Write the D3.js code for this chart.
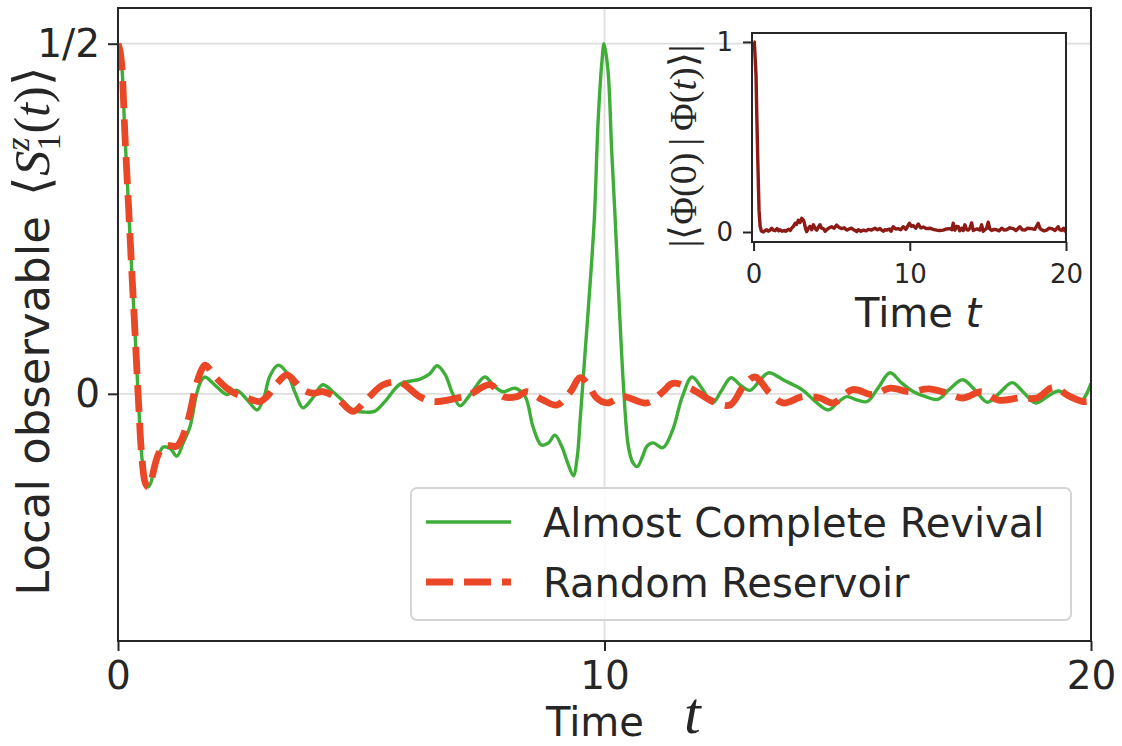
<!DOCTYPE html>
<html><head><meta charset="utf-8">
<script src="https://cdn.jsdelivr.net/npm/d3@7"></script>
<style>body{margin:0;background:#fff} svg{display:block}</style>
</head><body><svg id="c" width="1122" height="746"></svg>
<script>
// ---------- data ----------
const xTicks = [0, 10, 20];
const yTicks = [0, 0.5];
const yTickLabels = {"0": "0", "0.5": "1/2"};
const insetXTicks = [0, 10, 20];
const insetYTicks = [0, 1];
const seriesNames = ["Almost Complete Revival", "Random Reservoir"];

// [time, <S1z(t)>] for the "Almost Complete Revival" curve
const revival = [[0,0.5],[0.04,0.49],[0.08,0.467],[0.14,0.373],[0.21,0.277],[0.28,0.18],[0.35,0.087],[0.42,-0.009],[0.49,-0.09],[0.56,-0.127],[0.62,-0.133],[0.68,-0.126],[0.72,-0.113],[0.82,-0.09],[0.93,-0.076],[1.07,-0.078],[1.21,-0.089],[1.34,-0.07],[1.48,-0.047],[1.62,0.001],[1.72,0.02],[1.79,0.024],[2.03,0.01],[2.24,-0.001],[2.44,0.005],[2.65,-0.008],[2.86,-0.023],[3.0,-0.005],[3.12,0.025],[3.29,0.041],[3.47,0.03],[3.65,0.0],[3.8,-0.02],[3.98,-0.008],[4.21,0.013],[4.4,0.004],[4.56,-0.006],[4.83,-0.023],[5.05,-0.026],[5.27,-0.025],[5.5,-0.01],[5.8,0.014],[6.21,0.021],[6.4,0.028],[6.56,0.04],[6.72,0.028],[6.88,0.0],[7.03,-0.017],[7.25,0.0],[7.54,0.024],[7.72,0.012],[7.91,0.003],[8.16,0.008],[8.37,-0.004],[8.53,-0.047],[8.7,-0.073],[8.85,-0.07],[8.98,-0.059],[9.12,-0.075],[9.25,-0.1],[9.36,-0.117],[9.44,-0.09],[9.5,-0.037],[9.6,0.058],[9.7,0.153],[9.79,0.249],[9.87,0.391],[9.95,0.477],[9.99,0.5],[10.07,0.463],[10.15,0.344],[10.22,0.249],[10.3,0.13],[10.4,0.0],[10.49,-0.075],[10.58,-0.098],[10.67,-0.104],[10.78,-0.09],[10.87,-0.075],[11.0,-0.07],[11.2,-0.077],[11.4,-0.052],[11.6,-0.004],[11.8,0.024],[12.0,0.008],[12.22,-0.013],[12.4,0.004],[12.6,0.023],[12.8,0.012],[12.99,0.005],[13.18,0.018],[13.37,0.03],[13.7,0.019],[14.08,0.005],[14.35,-0.012],[14.6,-0.023],[14.8,-0.012],[14.98,-0.004],[15.2,-0.009],[15.4,-0.011],[15.62,0.008],[15.87,0.03],[16.1,0.016],[16.35,0.003],[16.6,-0.004],[16.85,-0.008],[17.1,0.007],[17.36,0.02],[17.62,0.005],[17.87,-0.012],[18.1,0.0],[18.38,0.016],[18.6,0.003],[18.86,-0.013],[19.1,-0.004],[19.33,0.004],[19.55,-0.003],[19.8,-0.01],[20.0,0.015]];

// [time, <S1z(t)>] for the "Random Reservoir" curve
const reservoir = [[0,0.5],[0.04,0.49],[0.08,0.467],[0.14,0.373],[0.21,0.277],[0.28,0.18],[0.35,0.087],[0.42,-0.009],[0.49,-0.09],[0.56,-0.127],[0.62,-0.133],[0.68,-0.126],[0.72,-0.113],[0.82,-0.088],[0.93,-0.075],[1.07,-0.074],[1.2,-0.075],[1.3,-0.066],[1.45,-0.035],[1.58,0.005],[1.69,0.03],[1.79,0.041],[2.0,0.024],[2.24,0.008],[2.45,-0.001],[2.65,-0.006],[2.92,-0.011],[3.06,-0.004],[3.27,0.015],[3.47,0.027],[3.64,0.017],[3.8,0.006],[4.0,0.001],[4.21,0.003],[4.5,-0.006],[4.83,-0.025],[5.1,-0.009],[5.45,0.013],[5.8,0.016],[6.2,-0.004],[6.48,-0.011],[6.97,-0.006],[7.23,-0.001],[7.65,0.013],[7.92,-0.004],[8.2,-0.004],[8.4,0.003],[8.74,-0.009],[9.02,-0.016],[9.3,0.003],[9.5,0.023],[9.67,0.012],[9.84,-0.006],[10.05,-0.013],[10.38,-0.004],[10.87,-0.013],[11.2,0.003],[11.4,0.015],[11.76,0.008],[12.23,-0.011],[12.58,-0.016],[12.85,0.01],[13.09,0.024],[13.4,0.001],[13.67,-0.013],[14.08,-0.004],[14.43,-0.006],[14.7,-0.013],[15.1,0.006],[15.52,-0.001],[15.87,0.008],[16.28,0.003],[16.66,0.007],[17.0,0.002],[17.37,-0.006],[17.75,0.003],[18.1,-0.009],[18.54,-0.006],[18.89,-0.006],[19.22,0.009],[19.57,-0.004],[19.84,-0.011],[20.0,-0.01]];

// [time, |<Phi(0)|Phi(t)>|] for the inset
const overlap = [[0,1.0],[0.05,1.0],[0.16,0.82],[0.2,0.64],[0.27,0.38],[0.35,0.115],[0.42,0.03],[0.5,0.005],[0.63,0.0],[0.75,0.008],[0.84,0.012],[0.95,0.004],[1.05,0.01],[1.16,0.02],[1.27,0.009],[1.38,0.007],[1.5,0.018],[1.6,0.006],[1.7,0.012],[1.82,0.004],[1.95,0.008],[2.05,0.004],[2.12,0.008],[2.25,0.014],[2.35,0.008],[2.44,0.02],[2.55,0.03],[2.66,0.046],[2.75,0.04],[2.87,0.062],[2.97,0.05],[3.08,0.072],[3.16,0.066],[3.23,0.054],[3.32,0.02],[3.4,0.002],[3.5,0.018],[3.61,0.03],[3.72,0.012],[3.83,0.038],[3.93,0.02],[4.04,0.01],[4.15,0.025],[4.25,0.038],[4.36,0.02],[4.47,0.018],[4.58,0.004],[4.68,0.012],[4.84,0.022],[5.0,0.028],[5.16,0.02],[5.32,0.036],[5.48,0.024],[5.64,0.018],[5.8,0.022],[5.96,0.01],[6.12,0.016],[6.28,0.02],[6.4,0.012],[6.5,0.008],[6.6,0.002],[6.71,0.012],[6.87,0.004],[7.03,0.01],[7.2,0.006],[7.35,0.014],[7.55,0.01],[7.77,0.02],[7.93,0.012],[8.09,0.018],[8.2,0.01],[8.3,0.004],[8.4,0.012],[8.52,0.01],[8.7,0.016],[8.8,0.004],[8.94,0.028],[9.1,0.016],[9.26,0.018],[9.42,0.012],[9.58,0.028],[9.75,0.014],[9.97,0.046],[10.1,0.03],[10.22,0.034],[10.38,0.02],[10.54,0.042],[10.7,0.022],[10.86,0.026],[11.05,0.018],[11.29,0.02],[11.5,0.014],[11.72,0.01],[11.9,0.008],[12.14,0.01],[12.35,0.016],[12.57,0.018],[12.7,0.012],[12.78,0.046],[12.84,0.014],[12.89,0.01],[13.0,0.03],[13.1,0.028],[13.2,0.006],[13.32,0.02],[13.42,0.008],[13.53,0.038],[13.63,0.014],[13.74,0.01],[13.85,0.02],[13.96,0.048],[14.06,0.008],[14.17,0.012],[14.3,0.016],[14.49,0.01],[14.6,0.038],[14.7,0.004],[14.81,0.012],[14.92,0.02],[15.02,0.052],[15.12,0.016],[15.24,0.008],[15.4,0.014],[15.56,0.012],[15.72,0.006],[15.88,0.02],[16.05,0.01],[16.2,0.012],[16.4,0.022],[16.62,0.018],[16.8,0.008],[17.05,0.028],[17.2,0.012],[17.37,0.01],[17.55,0.02],[17.8,0.018],[18.0,0.014],[18.22,0.046],[18.33,0.02],[18.44,0.012],[18.6,0.006],[18.76,0.01],[18.92,0.02],[19.08,0.018],[19.3,0.008],[19.5,0.028],[19.6,0.012],[19.72,0.008],[19.85,0.02],[19.93,0.005],[20,0.012]];

// ---------- drawing ----------
const W = 1122, H = 746;
const ink = "#262626", gridCol = "#dedede";
const green = "#3fae38", red = "#ea4727", dark = "#8c1b16";
const SANS = "DejaVu Sans", SERIF = "Liberation Serif";
const svg = d3.select("#c");
svg.append("rect").attr("width", W).attr("height", H).attr("fill", "#fff");

const M = {l: 118, r: 1091, t: 8, b: 641};
const x = d3.scaleLinear().domain([0, 20]).range([M.l, M.r]);
const y = d3.scaleLinear().domain([-0.353, 0.551]).range([M.b, M.t]);

// grid
svg.append("g").selectAll("line").data(yTicks).join("line")
  .attr("x1", M.l).attr("x2", M.r).attr("y1", d => y(d)).attr("y2", d => y(d))
  .attr("stroke", gridCol).attr("stroke-width", 1.8);
svg.append("g").selectAll("line").data(xTicks).join("line")
  .attr("y1", M.t).attr("y2", M.b).attr("x1", d => x(d)).attr("x2", d => x(d))
  .attr("stroke", gridCol).attr("stroke-width", 1.8);

svg.append("clipPath").attr("id", "mainclip").append("rect")
  .attr("x", M.l).attr("y", M.t).attr("width", M.r - M.l).attr("height", M.b - M.t);

const line = d3.line().x(d => x(d[0])).y(d => y(d[1])).curve(d3.curveCatmullRom.alpha(0.5));
const plot = svg.append("g").attr("clip-path", "url(#mainclip)");
plot.append("path").datum(revival).attr("d", line).attr("fill", "none")
  .attr("stroke", green).attr("stroke-width", 3.4).attr("stroke-linejoin", "round");
plot.append("path").datum(reservoir).attr("d", line).attr("fill", "none")
  .attr("stroke", red).attr("stroke-width", 6.8).attr("stroke-dasharray", "27,11");

// spines
svg.append("rect").attr("x", M.l).attr("y", M.t).attr("width", M.r - M.l).attr("height", M.b - M.t)
  .attr("fill", "none").attr("stroke", ink).attr("stroke-width", 2);

// axes
const gx = svg.append("g").attr("transform", `translate(0,${M.b})`)
  .call(d3.axisBottom(x).tickValues(xTicks).tickSize(10).tickPadding(10).tickFormat(d3.format("d")));
const gy = svg.append("g").attr("transform", `translate(${M.l},0)`)
  .call(d3.axisLeft(y).tickValues(yTicks).tickSize(10).tickPadding(8).tickFormat(d => yTickLabels[String(d)]));
[gx, gy].forEach(g => {
  g.select(".domain").remove();
  g.selectAll(".tick line").attr("stroke", ink).attr("stroke-width", 2);
  g.selectAll(".tick text").attr("font-family", SANS).attr("font-size", 39).attr("fill", ink);
});

// x label
svg.append("text").attr("x", 546).attr("y", 736).attr("fill", ink)
  .attr("font-family", SANS).attr("font-size", 40).text("Time");
svg.append("text").attr("x", 684).attr("y", 733).attr("fill", ink)
  .attr("font-family", SERIF).attr("font-style", "italic").attr("font-size", 60).text("t");

// y label
const yl = svg.append("text").attr("transform", "translate(49,331) rotate(-90)")
  .attr("text-anchor", "middle").attr("fill", ink);
yl.append("tspan").attr("font-family", SANS).attr("font-size", 45).text("Local observable ");
yl.append("tspan").attr("font-family", SERIF).attr("font-size", 50).attr("dx", 6).text("\u27E8");
yl.append("tspan").attr("font-family", SERIF).attr("font-size", 50).attr("font-style", "italic").text("S");
yl.append("tspan").attr("font-family", SERIF).attr("font-size", 34).attr("font-style", "italic").attr("dy", -20).text("z");
yl.append("tspan").attr("font-family", SERIF).attr("font-size", 34).attr("dx", -13).attr("dy", 31).text("1");
yl.append("tspan").attr("font-family", SERIF).attr("font-size", 50).attr("dy", -11).text("(");
yl.append("tspan").attr("font-family", SERIF).attr("font-size", 50).attr("font-style", "italic").text("t");
yl.append("tspan").attr("font-family", SERIF).attr("font-size", 50).text(")\u27E9");

// legend
const lg = svg.append("g");
lg.append("rect").attr("x", 411).attr("y", 488).attr("width", 660).attr("height", 132).attr("rx", 6)
  .attr("fill", "#fff").attr("fill-opacity", 0.85).attr("stroke", "#d4d4d4").attr("stroke-width", 2);
const legendItems = [
  {name: seriesNames[0], color: green, w: 3.4, dash: null, y: 522},
  {name: seriesNames[1], color: red, w: 6.8, dash: "27,11", y: 582}
];
legendItems.forEach(it => {
  lg.append("line").attr("x1", 426).attr("x2", 511).attr("y1", it.y).attr("y2", it.y)
    .attr("stroke", it.color).attr("stroke-width", it.w).attr("stroke-dasharray", it.dash);
  lg.append("text").attr("x", 543).attr("y", it.y + 15).attr("font-family", SANS).attr("font-size", 40)
    .attr("fill", ink).text(it.name);
});

// ---------- inset ----------
const I = {l: 752, r: 1066, t: 33, b: 242};
const xi = d3.scaleLinear().domain([-0.1, 20]).range([I.l, I.r]);
const yi = d3.scaleLinear().domain([-0.0526, 1.047]).range([I.b, I.t]);
svg.append("rect").attr("x", I.l).attr("y", I.t).attr("width", I.r - I.l).attr("height", I.b - I.t).attr("fill", "#fff");
svg.append("clipPath").attr("id", "insclip").append("rect")
  .attr("x", I.l).attr("y", I.t).attr("width", I.r - I.l).attr("height", I.b - I.t);
const iline = d3.line().x(d => xi(d[0])).y(d => yi(d[1]));
svg.append("g").attr("clip-path", "url(#insclip)").append("path").datum(overlap).attr("d", iline)
  .attr("fill", "none").attr("stroke", dark).attr("stroke-width", 3.4).attr("stroke-linejoin", "round");
svg.append("rect").attr("x", I.l).attr("y", I.t).attr("width", I.r - I.l).attr("height", I.b - I.t)
  .attr("fill", "none").attr("stroke", ink).attr("stroke-width", 2);
const gxi = svg.append("g").attr("transform", `translate(0,${I.b})`)
  .call(d3.axisBottom(xi).tickValues(insetXTicks).tickSize(9).tickPadding(14).tickFormat(d3.format("d")));
const gyi = svg.append("g").attr("transform", `translate(${I.l},0)`)
  .call(d3.axisLeft(yi).tickValues(insetYTicks).tickSize(9).tickPadding(10).tickFormat(d3.format("d")));
[gxi, gyi].forEach(g => {
  g.select(".domain").remove();
  g.selectAll(".tick line").attr("stroke", ink).attr("stroke-width", 2);
  g.selectAll(".tick text").attr("font-family", SANS).attr("font-size", 26).attr("fill", ink);
});
const xil = svg.append("text").attr("x", 855).attr("y", 327).attr("font-family", SANS).attr("font-size", 40).attr("fill", ink);
xil.append("tspan").text("Time ");
xil.append("tspan").attr("font-style", "italic").text("t");

const yil = svg.append("text").attr("transform", "translate(696,146) rotate(-90)")
  .attr("text-anchor", "middle").attr("font-family", SERIF).attr("font-size", 38).attr("fill", ink);
yil.append("tspan").text("|\u27E8\u03A6(0)");
yil.append("tspan").attr("dx", 7).text("|");
yil.append("tspan").attr("dx", 7).text("\u03A6(");
yil.append("tspan").attr("font-style", "italic").text("t");
yil.append("tspan").text(")\u27E9|");
</script></body></html>
